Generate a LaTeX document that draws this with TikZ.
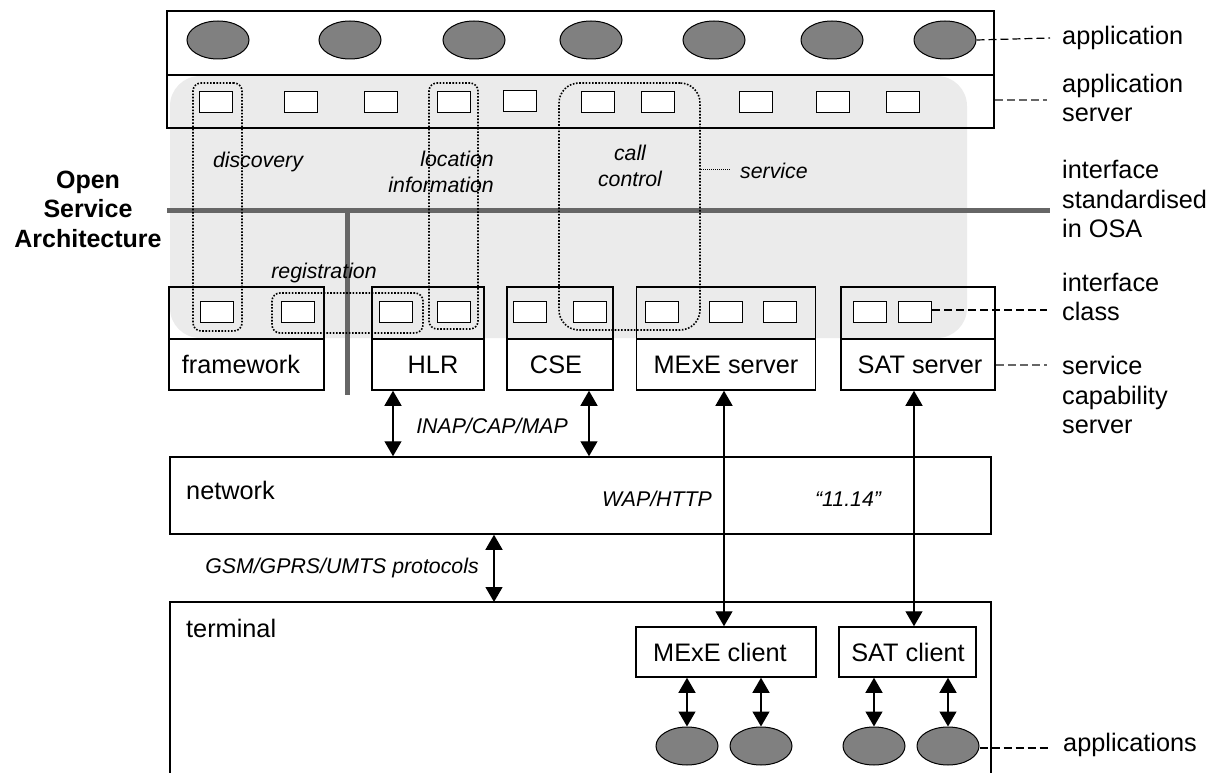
\documentclass[tikz,border=0pt]{standalone}
\usepackage{fontspec}
\setmainfont{Liberation Sans}
\usetikzlibrary{arrows.meta,shapes.geometric}
\definecolor{bgray}{HTML}{EBEBEB}
\definecolor{dgray}{HTML}{666666}
\definecolor{egray}{HTML}{808080}
\tikzset{
  box/.style={draw=black, line width=1.5pt, inner sep=0pt, rectangle},
  irect/.style={draw=black, line width=1.2pt, fill=white, inner sep=0pt, minimum width=33pt, minimum height=21pt},
  app/.style={ellipse, draw=black, line width=1pt, fill=egray, inner sep=0pt, minimum width=62pt, minimum height=38pt},
  dotbox/.style={draw=black, line width=1.6pt, dash pattern=on 1.6pt off 1.6pt, inner sep=0pt, rounded corners=8pt},
  lead/.style={draw=black, line width=1.2pt, dash pattern=on 8pt off 4pt},
  leadg/.style={draw=dgray, line width=1.2pt, dash pattern=on 8pt off 4pt},
  txt/.style={font=\fontsize{25.3}{29.5}\selectfont, inner sep=0pt, align=left},
  itx/.style={font=\fontsize{21.3}{26}\selectfont\itshape, inner sep=0pt, align=center},
  dbl/.style={line width=1.3pt, {Triangle[width=17pt,length=15pt]}-{Triangle[width=17pt,length=15pt]}},
  osa/.style={draw=dgray, line width=5pt},
}
\begin{document}
\begin{tikzpicture}[x=1pt,y=-1pt]
\useasboundingbox (0,0) rectangle (1211,773);
% grey OSA background
\fill[bgray, rounded corners=30pt] (170,76) rectangle (967,338);
% top boxes
\node[box, minimum width=827pt, minimum height=64pt] (appl) at (580.5,43) {};
\node[box, minimum width=827pt, minimum height=53pt] (appsrv) at (580.5,101.5) {};
% top ellipses
\foreach \x [count=\i] in {218,350,474,591,714,832,945}
  \node[app] (e\i) at (\x,40) {};
% application server interfaces
\foreach \x [count=\i] in {216,301,381,454,598,658,756,833,903}
  \node[irect] (a\i) at (\x,102) {};
\node[irect] (a10) at (520,101) {};
% OSA interface line
\coordinate (osaL) at (167,211);
\coordinate (osaR) at (1050,211);
\coordinate (osaV) at (347,211);
\coordinate (osaB) at (347,395);
\draw[osa] (osaL) -- (osaR);
\draw[osa] (osaV) -- (osaB);
% service capability servers
\node[box, minimum width=155pt, minimum height=52pt] (fwT) at (246.5,313) {};
\node[box, minimum width=155pt, minimum height=51pt] (fw) at (246.5,364.5) {};
\node[txt] (fwl) at (241,364.5) {framework};
\node[box, minimum width=112pt, minimum height=52pt] (hlrT) at (428,313) {};
\node[box, minimum width=112pt, minimum height=51pt] (hlr) at (428,364.5) {};
\node[txt] (hlrl) at (433,364.5) {HLR};
\node[box, minimum width=106pt, minimum height=52pt] (cseT) at (560,313) {};
\node[box, minimum width=106pt, minimum height=51pt] (cse) at (560,364.5) {};
\node[txt] (csel) at (556,364.5) {CSE};
\node[box, minimum width=179pt, minimum height=52pt] (mexT) at (726,313) {};
\node[box, minimum width=179pt, minimum height=51pt] (mex) at (726,364.5) {};
\node[txt] (mexl) at (mex.center) {MExE server};
\node[box, minimum width=154pt, minimum height=52pt] (satT) at (918,313) {};
\node[box, minimum width=154pt, minimum height=51pt] (sat) at (918,364.5) {};
\node[txt] (satl) at (920,364.5) {SAT server};
% interface classes
\foreach \x [count=\i] in {217,298,396,454,530,590,662,726,780,870,915}
  \node[irect] (c\i) at (\x,312) {};
% dotted service groupings
\node[dotbox, minimum width=49pt, minimum height=248pt] (disc) at (217.5,207) {};
\node[dotbox, minimum width=49pt, minimum height=246pt] (loc) at (453.5,206) {};
\node[dotbox, rounded corners=20pt, minimum width=141pt, minimum height=247pt] (call) at (629.5,206.5) {};
\node[dotbox, minimum width=151pt, minimum height=40pt] (reg) at (347.5,313) {};
% italic labels
\node[itx] (discl) at (258,162) {discovery};
\node[itx, align=right, anchor=east] (locl) at (494,172) {location\\information};
\node[itx] (calll) at (630,166) {call\\control};
\node[itx] (regl) at (324,273) {registration};
\node[itx, anchor=west] (servl) at (740,171) {service};
\coordinate (servc) at (701,169);
\coordinate (servd) at (731,169);
\draw[line width=0.8pt, dash pattern=on 1pt off 1pt] (servc) -- (servd);
% left title
\node[font=\fontsize{25}{29.5}\selectfont\bfseries, inner sep=0pt, align=center] (osat) at (88,209) {Open\\Service\\Architecture};
% network and terminal
\node[box, minimum width=821pt, minimum height=77pt] (net) at (580.5,495.5) {};
\node[txt, anchor=west] (netl) at (186,490) {network};
\node[itx] (wap) at (657,499) {WAP/HTTP};
\node[itx] (ell) at (848,499) {“11.14”};
\coordinate (tBL) at (170,780);
\coordinate (tTL) at (170,602);
\coordinate (tTR) at (991,602);
\coordinate (tBR) at (991,780);
\draw[line width=1.5pt] (tBL) -- (tTL) -- (tTR) -- (tBR);
\node[txt, anchor=west] (terml) at (186,628) {terminal};
\node[box, minimum width=180pt, minimum height=50pt] (mexc) at (726,652) {};
\node[txt] (mexcl) at (720,652) {MExE client};
\node[box, minimum width=137pt, minimum height=50pt] (satc) at (907.5,652) {};
\node[txt] (satcl) at (908,652) {SAT client};
% bottom applications
\foreach \x [count=\i] in {687,761,874,948}
  \node[app] (b\i) at (\x,746) {};
% protocol arrows
\coordinate (xH) at (393,0);
\coordinate (xC) at (589,0);
\coordinate (xG) at (494,0);
\coordinate (xM) at (724,0);
\coordinate (xS) at (914,0);
\draw[dbl] (xH |- hlr.south) -- (xH |- net.north);
\draw[dbl] (xC |- cse.south) -- (xC |- net.north);
\node[itx] (inap) at (492,426) {INAP/CAP/MAP};
\draw[dbl] (xG |- net.south) -- (xG |- tTL);
\node[itx] (gsm) at (342,568) {GSM/GPRS/UMTS protocols};
\draw[dbl] (xM |- mexc.north) -- (xM |- mex.south);
\draw[dbl] (xS |- satc.north) -- (xS |- sat.south);
\draw[dbl] (b1.north |- mexc.south) -- (b1.north);
\draw[dbl] (b2.north |- mexc.south) -- (b2.north);
\draw[dbl] (b3.north |- satc.south) -- (b3.north);
\draw[dbl] (b4.north |- satc.south) -- (b4.north);
% right labels
\node[txt, anchor=west] (lapp) at (1062,38) {application};
\node[txt, anchor=west] (lasrv) at (1062,98) {application\\server};
\node[txt, anchor=west] (lint) at (1062,199) {interface\\standardised\\in OSA};
\node[txt, anchor=west] (lcls) at (1062,297) {interface\\class};
\node[txt, anchor=west] (lscs) at (1062,395) {service\\capability\\server};
\node[txt, anchor=west] (lapps) at (1063,745) {applications};
% leaders
\coordinate (ld1) at (1050,38);
\coordinate (ld2) at (1047,100);
\coordinate (ld3) at (1047,310);
\coordinate (ld4) at (1047,365);
\coordinate (ld5) at (1048,748);
\draw[lead] (e7.east) -- (ld1);
\draw[leadg] (appsrv.east |- ld2) -- (ld2);
\draw[lead] (c11.east |- ld3) -- (ld3);
\draw[leadg] (sat.east |- ld4) -- (ld4);
\draw[lead] (b4.east |- ld5) -- (ld5);
\end{tikzpicture}
\end{document}
